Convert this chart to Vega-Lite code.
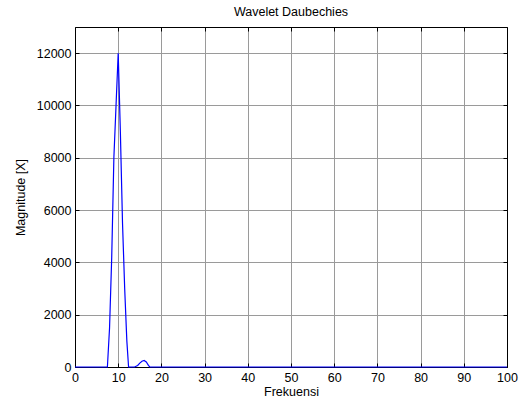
{
  "$schema": "https://vega.github.io/schema/vega-lite/v6.json",
  "width": 432,
  "height": 340,
  "autosize": {"type": "none"},
  "padding": {"left": 75, "top": 27, "right": 15, "bottom": 38},
  "background": "white",
  "title": {"text": "Wavelet Daubechies", "font": "Liberation Sans", "fontSize": 12.5, "fontWeight": "normal", "color": "black", "offset": 8},
  "config": {
    "view": {"stroke": null},
    "axis": {
      "labelFont": "Liberation Sans", "labelFontSize": 12.5, "labelColor": "black",
      "titleFont": "Liberation Sans", "titleFontSize": 12.5, "titleFontWeight": "normal", "titleColor": "black",
      "domainColor": "black", "domainWidth": 1, "tickColor": "black", "tickSize": -4,
      "gridColor": "#9a9a9a", "gridWidth": 1, "gridOpacity": 1, "labelFlush": false
    }
  },
  "data": {"values": [
    {"f": 0, "m": 0},
    {"f": 7.5, "m": 0},
    {"f": 8, "m": 1500},
    {"f": 8.5, "m": 4200},
    {"f": 9, "m": 8000},
    {"f": 9.5, "m": 10000},
    {"f": 10, "m": 12000},
    {"f": 10.5, "m": 9000},
    {"f": 11, "m": 5500},
    {"f": 11.5, "m": 3000},
    {"f": 12, "m": 1000},
    {"f": 12.4, "m": 0},
    {"f": 13.8, "m": 0},
    {"f": 14.5, "m": 60},
    {"f": 15, "m": 150},
    {"f": 15.5, "m": 220},
    {"f": 16, "m": 250},
    {"f": 16.5, "m": 190},
    {"f": 17, "m": 60},
    {"f": 17.3, "m": 0},
    {"f": 100, "m": 0}
  ]},
  "layer": [
    {
      "mark": {"type": "line", "color": "#0000ff", "strokeWidth": 1.2, "interpolate": "linear", "clip": false},
      "encoding": {
        "x": {"field": "f", "type": "quantitative", "scale": {"domain": [0, 100], "nice": false, "zero": false},
              "axis": {"title": "Frekuensi", "format": "d", "values": [0,10,20,30,40,50,60,70,80,90,100], "grid": true, "labelFlush": false, "labelPadding": 8, "titlePadding": 2, "zindex": 0}},
        "y": {"field": "m", "type": "quantitative", "scale": {"domain": [0, 13000], "nice": false},
              "axis": {"title": "Magnitude [X]", "format": "d", "values": [0,2000,4000,6000,8000,10000,12000], "grid": true, "labelPadding": 8, "titlePadding": 9, "zindex": 0}}
      }
    },
    {
      "mark": {"type": "line", "opacity": 0},
      "encoding": {
        "x": {"field": "f", "type": "quantitative",
              "axis": {"orient": "top", "title": null, "labels": false, "grid": false, "values": [0,10,20,30,40,50,60,70,80,90,100], "zindex": 0}},
        "y": {"field": "m", "type": "quantitative",
              "axis": {"orient": "right", "title": null, "labels": false, "grid": false, "values": [0,2000,4000,6000,8000,10000,12000], "zindex": 0}}
      }
    }
  ],
  "resolve": {"axis": {"x": "independent", "y": "independent"}}
}
